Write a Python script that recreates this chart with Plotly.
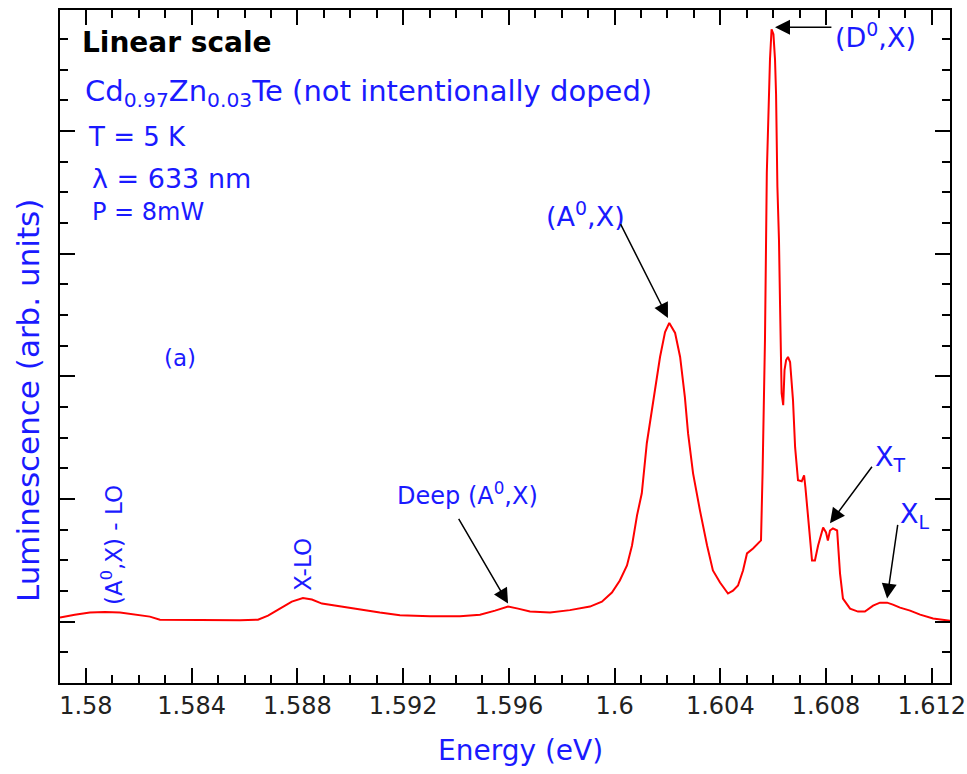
import plotly.graph_objects as go

# Photoluminescence spectrum of Cd0.97Zn0.03Te at 5 K (linear scale)
energy_ev = [
    1.57902, 1.57958, 1.58015, 1.58072, 1.58129, 1.58185, 1.58242, 1.58280, 1.58431, 1.58583,
    1.58651, 1.58689, 1.58734, 1.58779, 1.58821, 1.58855, 1.58893, 1.58961, 1.59037, 1.59112,
    1.59188, 1.59302, 1.59415, 1.59491, 1.59548, 1.59597, 1.59635, 1.59680, 1.59756, 1.59831,
    1.59907, 1.59952, 1.59990, 1.60020, 1.60047, 1.60066, 1.60085, 1.60103, 1.60122, 1.60134,
    1.60153, 1.60172, 1.60191, 1.60207, 1.60229, 1.60248, 1.60266, 1.60278, 1.60297, 1.60312,
    1.60323, 1.60350, 1.60372, 1.60399, 1.60429, 1.60448, 1.60467, 1.60486, 1.60501, 1.60524,
    1.60554, 1.60560, 1.60569, 1.60576, 1.60582, 1.60588, 1.60594, 1.60601, 1.60607, 1.60611,
    1.60616, 1.60622, 1.60626, 1.60632, 1.60638, 1.60643, 1.60649, 1.60656, 1.60664, 1.60675,
    1.60683, 1.60694, 1.60708, 1.60717, 1.60722, 1.60732, 1.60739, 1.60747, 1.60758, 1.60770,
    1.60789, 1.60800, 1.60807, 1.60815, 1.60826, 1.60842, 1.60853, 1.60864, 1.60891, 1.60921,
    1.60947, 1.60978, 1.61004, 1.61031, 1.61053, 1.61080, 1.61118, 1.61156, 1.61205, 1.61269,
]
luminescence = [
    0.033, 0.057, 0.074, 0.078, 0.074, 0.057, 0.041, 0.016, 0.012, 0.012,
    0.016, 0.049, 0.106, 0.163, 0.192, 0.180, 0.147, 0.123, 0.098, 0.074,
    0.053, 0.045, 0.045, 0.057, 0.090, 0.123, 0.106, 0.082, 0.074, 0.094,
    0.123, 0.163, 0.237, 0.335, 0.458, 0.621, 0.866, 1.046, 1.454, 1.618,
    1.912, 2.157, 2.361, 2.435, 2.353, 2.157, 1.830, 1.536, 1.209, 1.013,
    0.907, 0.621, 0.417, 0.319, 0.229, 0.253, 0.294, 0.417, 0.556, 0.596,
    0.662, 1.217, 2.296, 3.660, 4.257, 4.583, 4.828, 4.788, 4.583, 4.297,
    3.546, 3.113, 2.582, 1.863, 1.765, 2.051, 2.132, 2.157, 2.116, 1.806,
    1.422, 1.152, 1.144, 1.193, 1.095, 0.866, 0.662, 0.498, 0.498, 0.621,
    0.768, 0.727, 0.662, 0.743, 0.760, 0.743, 0.392, 0.188, 0.106, 0.082,
    0.082, 0.131, 0.155, 0.155, 0.139, 0.114, 0.090, 0.057, 0.025, 0.008,
]

x_tick_values = [1.580, 1.584, 1.588, 1.592, 1.596, 1.600, 1.604, 1.608, 1.612]
x_tick_labels = ["1.58", "1.584", "1.588", "1.592", "1.596", "1.6", "1.604", "1.608", "1.612"]

BLUE = "#1a1aff"
FONT = "DejaVu Sans"
W, H = 967, 774
ML, MR, MT, MB = 60, 17, 10, 91


def paper(px, py):
    """Canvas pixel position -> paper coordinates of the plot area."""
    return (px - ML) / (W - ML - MR), (H - MB - py) / (H - MT - MB)


fig = go.Figure()
fig.add_trace(go.Scatter(
    x=energy_ev, y=luminescence, mode="lines",
    line=dict(color="#ff0000", width=2), showlegend=False,
))

axis_common = dict(
    showline=True, linecolor="black", linewidth=2, mirror="ticks",
    ticks="inside", tickcolor="black", tickwidth=2, ticklen=15,
    showgrid=False, zeroline=False, automargin=False,
)
fig.update_xaxes(
    range=[1.57902, 1.61269], tickvals=x_tick_values, ticktext=x_tick_labels,
    tickfont=dict(family=FONT, size=24, color="#222222"),
    minor=dict(dtick=0.001, tick0=1.58, ticks="inside", ticklen=8,
               tickcolor="black", tickwidth=2),
    **axis_common,
)
fig.update_yaxes(
    range=[-0.5, 4.985], dtick=1, tick0=0, showticklabels=False,
    minor=dict(dtick=0.25, tick0=0, ticks="inside", ticklen=8,
               tickcolor="black", tickwidth=2),
    **axis_common,
)


def label(text, px, py, size, color=BLUE, xanchor="left", angle=0, bold=False):
    x, y = paper(px, py)
    fig.add_annotation(
        x=x, y=y, xref="paper", yref="paper", text=f"<b>{text}</b>" if bold else text,
        showarrow=False, xanchor=xanchor, yanchor="middle", textangle=angle,
        font=dict(family=FONT, size=size, color=color),
    )


# Sample description block
label("Linear scale", 80, 42, 28, color="black", bold=True)
label("Cd<sub>0.97</sub>Zn<sub>0.03</sub>Te (not intentionally doped)", 83, 93, 29)
label("T = 5 K", 86, 137, 26)
label("λ = 633 nm", 90, 178, 27)
label("P = 8mW", 90, 212, 24)
label("(a)", 180, 358, 23, xanchor="center")

# Peak labels
label("(D<sup>0</sup>,X)", 833, 36, 27)
label("(A<sup>0</sup>,X)", 585, 214, 27, xanchor="center")
label("Deep (A<sup>0</sup>,X)", 467, 494, 24, xanchor="center")
label("X<sub>T</sub>", 873, 458, 27)
label("X<sub>L</sub>", 898, 515, 27)
label("(A<sup>0</sup>,X) - LO", 112, 545, 23, xanchor="center", angle=-90)
label("X-LO", 303, 565, 23, xanchor="center", angle=-90)

# Axis titles
label("Energy (eV)", 520, 750, 28, xanchor="center")
label("Luminescence (arb. units)", 28, 401, 31, xanchor="center", angle=-90)

# Arrows: (tip x, tip y, tail x, tail y) in data units
arrows = [
    (1.60607, 4.845, 1.60826, 4.845),
    (1.60202, 2.475, 1.60020, 3.252),
    (1.59597, 0.147, 1.59407, 0.850),
    (1.60815, 0.801, 1.60978, 1.275),
    (1.61031, 0.188, 1.61072, 0.801),
]
for tx, ty, sx, sy in arrows:
    fig.add_annotation(
        x=tx, y=ty, ax=sx, ay=sy, xref="x", yref="y", axref="x", ayref="y",
        text="", showarrow=True, arrowhead=2, arrowsize=2, arrowwidth=1.5,
        arrowcolor="black",
    )

fig.update_layout(
    width=W, height=H, margin=dict(l=ML, r=MR, t=MT, b=MB),
    paper_bgcolor="white", plot_bgcolor="white",
)
fig.write_html("out.html")
